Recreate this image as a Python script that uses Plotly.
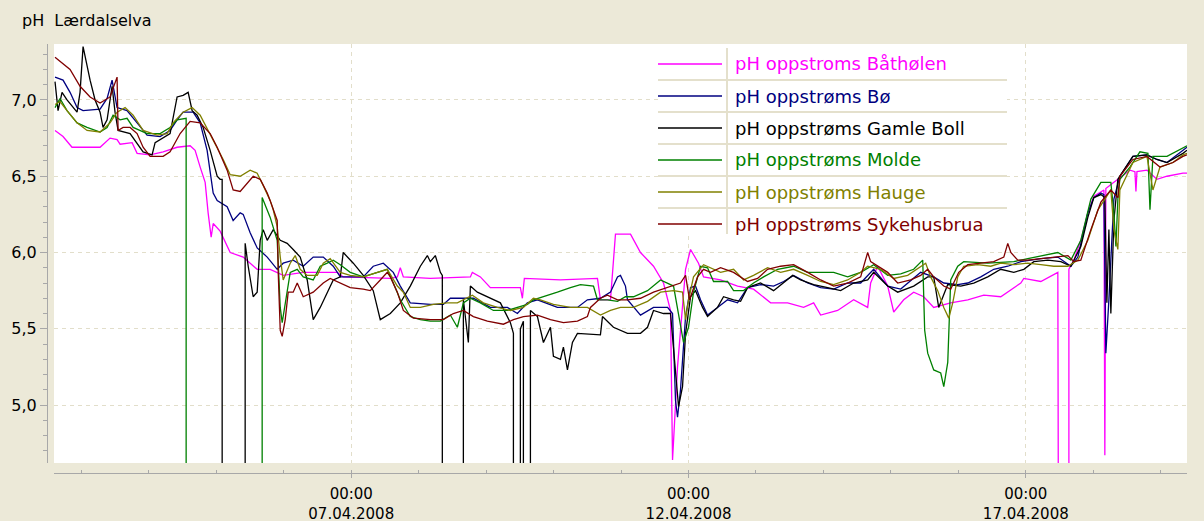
import numpy as np
import pandas as pd
import plotly.graph_objects as go

# ---------------- data (time = fractional day of April 2008, value = pH) ----------------
series_names = ["pH oppstroms Båthølen", "pH oppstrøms Bø", "pH oppstrøms Gamle Boll",
                "pH oppstrøms Molde", "pH oppstrøms Hauge", "pH oppstrøms Sykehusbrua"]
series_colors = ["#FF00FF", "#000080", "#000000", "#008000", "#808000", "#800000"]

bathoelen_day = [2.608, 2.727, 2.860, 3.276, 3.424, 3.528, 3.573, 3.751, 3.825, 4.018, 4.211, 4.418,
                 4.611, 4.685, 4.760, 4.834, 4.878, 4.923, 4.953, 5.056, 5.205, 5.398, 5.605, 5.798,
                 5.991, 6.288, 6.585, 6.792, 6.881, 7.579, 7.683, 7.727, 7.772, 8.172, 8.766, 8.795,
                 8.914, 9.062, 9.507, 9.537, 9.566, 10.101, 10.650, 10.694, 10.843, 10.917, 11.140,
                 11.288, 11.481, 11.629, 11.733, 11.763, 11.837, 11.956, 12.030, 12.148, 12.223,
                 12.475, 12.727, 12.964, 13.217, 13.469, 13.706, 13.855, 13.959, 14.211, 14.448,
                 14.656, 14.700, 14.804, 14.953, 15.042, 15.190, 15.338, 15.487, 15.635, 15.887,
                 16.140, 16.377, 16.629, 16.926, 16.971, 17.223, 17.475, 17.505, 17.639, 17.639,
                 17.713, 17.816, 17.920, 18.009, 18.113, 18.158, 18.172, 18.187, 18.306, 18.544,
                 18.618, 18.633, 18.648, 18.796, 18.944, 19.093, 19.330, 19.390]
bathoelen_ph = [6.80, 6.76, 6.69, 6.69, 6.75, 6.74, 6.71, 6.72, 6.65, 6.64, 6.66, 6.69,
                6.70, 6.67, 6.56, 6.46, 6.26, 6.10, 6.19, 6.14, 6.00, 5.97, 5.89, 5.89,
                5.85, 5.87, 5.87, 5.87, 5.84, 5.83, 5.84, 5.90, 5.84, 5.83, 5.84, 5.87,
                5.84, 5.77, 5.77, 5.70, 5.83, 5.82, 5.83, 5.69, 5.69, 6.12, 6.12,
                6.00, 5.91, 5.80, 5.62, 4.64, 5.25, 5.89, 6.02, 5.93, 5.84,
                5.82, 5.78, 5.76, 5.67, 5.67, 5.64, 5.67, 5.59, 5.62, 5.69,
                5.64, 5.80, 5.91, 5.78, 5.61, 5.69, 5.74, 5.71, 5.64, 5.67,
                5.69, 5.72, 5.71, 5.80, 5.83, 5.81, 5.87, 0.00, 0.00, 5.89,
                5.95, 6.08, 6.26, 6.37, 6.40, 6.41, 4.67, 6.42, 6.46, 6.54,
                6.53, 6.40, 6.53, 6.54, 6.48, 6.50, 6.52, 6.52]

boe_day = [2.608, 2.727, 2.831, 2.935, 3.024, 3.276, 3.380, 3.454, 3.528, 3.676, 3.825, 3.973,
           4.166, 4.314, 4.418, 4.507, 4.656, 4.760, 4.863, 4.953, 5.012, 5.160, 5.249, 5.353,
           5.398, 5.501, 5.605, 5.754, 5.902, 5.991, 6.139, 6.288, 6.436, 6.585, 6.733, 6.837,
           7.178, 7.326, 7.475, 7.623, 7.727, 7.875, 8.172, 8.365, 8.469, 8.810, 9.062, 9.315,
           9.463, 9.611, 9.760, 10.056, 10.353, 10.501, 10.694, 10.843, 10.947, 10.991, 11.065,
           11.095, 11.288, 11.481, 11.689, 11.763, 11.807, 11.837, 11.881, 11.956, 12.030,
           12.104, 12.178, 12.282, 12.430, 12.579, 12.727, 12.875, 13.068, 13.261, 13.410,
           13.558, 13.766, 13.959, 14.152, 14.359, 14.552, 14.745, 14.953, 15.146, 15.442,
           15.635, 15.784, 15.991, 16.140, 16.333, 16.525, 16.733, 16.926, 17.223, 17.475,
           17.668, 17.772, 17.920, 18.009, 18.113, 18.158, 18.187, 18.232, 18.306, 18.395,
           18.588, 18.796, 18.944, 19.093, 19.330, 19.390]
boe_ph = [7.15, 7.13, 7.05, 6.95, 6.93, 6.94, 7.01, 7.13, 6.95, 6.93, 6.85, 6.77,
          6.76, 6.80, 6.87, 6.92, 6.92, 6.85, 6.67, 6.39, 6.34, 6.30, 6.21, 6.26,
          6.25, 6.13, 6.03, 5.97, 5.89, 5.93, 5.95, 5.91, 5.97, 5.97, 5.91, 5.84,
          5.84, 5.91, 5.93, 5.87, 5.78, 5.67, 5.66, 5.66, 5.70, 5.70, 5.64, 5.64,
          5.60, 5.67, 5.69, 5.64, 5.64, 5.69, 5.70, 5.74, 5.84, 5.85, 5.78,
          5.69, 5.59, 5.64, 5.64, 5.60, 5.03, 4.92, 5.10, 5.58, 5.77,
          5.78, 5.69, 5.59, 5.64, 5.69, 5.67, 5.77, 5.79, 5.78, 5.81,
          5.85, 5.80, 5.77, 5.76, 5.80, 5.80, 5.89, 5.78, 5.76, 5.87,
          5.84, 5.80, 5.79, 5.80, 5.84, 5.89, 5.91, 5.94, 5.96, 5.97,
          5.91, 5.97, 6.26, 6.36, 6.39, 6.38, 5.34, 5.69, 6.35, 6.50,
          6.63, 6.64, 6.61, 6.59, 6.67, 6.69]

gamle_boll_day = [2.608, 2.653, 2.712, 2.786, 2.935, 2.979, 3.024, 3.083, 3.128, 3.202, 3.276, 3.320,
                  3.380, 3.454, 3.498, 3.543, 3.721, 3.914, 4.047, 4.092, 4.166, 4.314, 4.418, 4.507,
                  4.582, 4.641, 4.715, 4.804, 4.908, 5.012, 5.056, 5.086, 5.086, 5.427, 5.427, 5.472,
                  5.546, 5.605, 5.650, 5.694, 5.754, 5.843, 5.947, 6.050, 6.139, 6.243, 6.347, 6.436,
                  6.540, 6.644, 6.733, 6.837, 6.881, 7.030, 7.178, 7.326, 7.430, 7.579, 7.727, 7.875,
                  8.024, 8.128, 8.172, 8.246, 8.321, 8.350, 8.350, 8.662, 8.662, 8.736, 8.766, 8.869,
                  9.018, 9.211, 9.359, 9.404, 9.404, 9.507, 9.507, 9.552, 9.552, 9.656, 9.656, 9.760,
                  9.849, 9.953, 9.997, 10.101, 10.145, 10.205, 10.279, 10.353, 10.694, 10.724, 10.887,
                  10.991, 11.095, 11.288, 11.392, 11.481, 11.629, 11.733, 11.778, 11.852, 11.911,
                  11.956, 12.030, 12.104, 12.208, 12.282, 12.430, 12.519, 12.668, 12.772, 12.875,
                  13.068, 13.261, 13.410, 13.543, 13.662, 13.855, 14.063, 14.255, 14.448, 14.656,
                  14.745, 14.953, 15.101, 15.338, 15.546, 15.635, 15.709, 15.843, 16.036, 16.229,
                  16.436, 16.629, 16.822, 16.971, 17.119, 17.327, 17.520, 17.668, 17.816, 17.920,
                  18.009, 18.113, 18.172, 18.202, 18.232, 18.261, 18.306, 18.365, 18.588, 18.796,
                  18.944, 19.093, 19.330, 19.390]
gamle_boll_ph = [7.12, 6.93, 7.05, 7.00, 6.92, 7.05, 7.35, 7.22, 7.13, 7.00, 6.92, 6.82,
                 6.87, 7.09, 6.92, 6.80, 6.78, 6.66, 6.64, 6.72, 6.74, 6.78, 7.02, 7.03,
                 7.05, 6.93, 6.90, 6.82, 6.67, 6.50, 6.48, 6.48, 0.00, 0.00, 6.06, 5.91,
                 5.71, 5.74, 6.08, 6.15, 6.08, 6.15, 6.08, 6.06, 6.02, 5.97, 5.82, 5.56,
                 5.64, 5.74, 5.82, 5.84, 6.00, 5.93, 5.85, 5.75, 5.56, 5.60, 5.67, 5.78,
                 5.91, 5.98, 5.94, 5.98, 5.87, 5.85, 0.00, 0.00, 5.69, 5.41, 5.78, 5.74,
                 5.71, 5.67, 5.54, 5.47, 0.00, 0.00, 5.50, 5.55, 0.00, 0.00, 5.62, 5.58,
                 5.41, 5.51, 5.32, 5.30, 5.38, 5.23, 5.41, 5.47, 5.46, 5.58, 5.51,
                 5.49, 5.47, 5.47, 5.51, 5.62, 5.60, 5.60, 5.36, 4.99, 5.12,
                 5.47, 5.71, 5.75, 5.64, 5.58, 5.64, 5.71, 5.69, 5.68, 5.77,
                 5.80, 5.75, 5.80, 5.85, 5.82, 5.79, 5.77, 5.75, 5.80, 5.82,
                 5.87, 5.78, 5.74, 5.78, 5.84, 5.84, 5.64, 5.79, 5.78, 5.80,
                 5.84, 5.89, 5.87, 5.89, 5.94, 5.95, 5.94, 5.91, 6.04, 6.23,
                 6.36, 6.38, 6.36, 5.67, 6.15, 5.60, 6.21, 6.48, 6.63, 6.64,
                 6.61, 6.59, 6.65, 6.67]

molde_day = [2.608, 2.682, 2.786, 2.935, 3.083, 3.276, 3.380, 3.469, 3.573, 3.676, 3.766, 3.973,
             4.166, 4.314, 4.418, 4.537, 4.552, 4.552, 5.679, 5.679, 5.798, 5.902, 5.947, 5.976,
             6.050, 6.095, 6.199, 6.288, 6.436, 6.540, 6.644, 6.733, 6.837, 6.985, 7.178, 7.386,
             7.534, 7.623, 7.727, 7.875, 8.024, 8.172, 8.321, 8.469, 8.573, 8.662, 8.766, 8.914,
             9.107, 9.315, 9.463, 9.611, 9.700, 9.849, 10.056, 10.249, 10.398, 10.591, 10.650,
             10.798, 10.947, 11.065, 11.184, 11.392, 11.585, 11.778, 11.881, 11.926, 12.000,
             12.074, 12.178, 12.282, 12.371, 12.579, 12.668, 12.816, 12.964, 13.113, 13.321,
             13.558, 13.766, 13.959, 14.152, 14.359, 14.552, 14.745, 14.953, 15.146, 15.338,
             15.472, 15.501, 15.546, 15.635, 15.739, 15.784, 15.843, 15.873, 15.887, 15.991,
             16.080, 16.436, 16.822, 17.030, 17.267, 17.475, 17.668, 17.816, 17.965, 18.113,
             18.261, 18.306, 18.336, 18.365, 18.395, 18.544, 18.692, 18.811, 18.841, 18.885,
             19.093, 19.330, 19.390]
molde_ph = [6.95, 7.01, 6.93, 6.85, 6.82, 6.79, 6.82, 6.90, 6.87, 6.88, 6.82, 6.78,
            6.78, 6.82, 6.87, 6.88, 6.88, 0.00, 0.00, 6.36, 6.23, 6.08, 5.64, 5.54,
            5.74, 5.87, 5.89, 5.84, 5.82, 5.91, 5.93, 5.95, 5.92, 5.87, 5.84, 5.87,
            5.89, 5.80, 5.69, 5.58, 5.56, 5.55, 5.55, 5.59, 5.51, 5.67, 5.70, 5.67,
            5.62, 5.62, 5.64, 5.66, 5.69, 5.71, 5.74, 5.77, 5.79, 5.78, 5.69,
            5.69, 5.68, 5.71, 5.71, 5.75, 5.82, 5.78, 5.51, 5.41, 5.51,
            5.74, 5.91, 5.90, 5.81, 5.81, 5.75, 5.75, 5.80, 5.84, 5.89,
            5.91, 5.87, 5.87, 5.87, 5.84, 5.87, 5.92, 5.85, 5.86, 5.89,
            5.95, 5.49, 5.34, 5.23, 5.21, 5.12, 5.28, 5.58, 5.82, 5.91,
            5.94, 5.93, 5.94, 5.96, 5.98, 6.00, 5.95, 6.08, 6.35, 6.46,
            6.46, 6.26, 6.04, 6.35, 6.48, 6.56, 6.66, 6.65, 6.28, 6.63,
            6.63, 6.69, 6.70]

hauge_day = [2.608, 2.682, 2.786, 2.935, 3.083, 3.276, 3.424, 3.528, 3.647, 3.766, 3.914, 4.122,
             4.270, 4.359, 4.507, 4.641, 4.760, 4.953, 5.101, 5.205, 5.353, 5.501, 5.605, 5.694,
             5.798, 5.843, 5.902, 5.947, 5.991, 6.095, 6.169, 6.243, 6.347, 6.496, 6.585, 6.688,
             6.837, 6.985, 7.178, 7.386, 7.534, 7.683, 7.772, 7.875, 8.024, 8.217, 8.424, 8.573,
             8.721, 8.795, 8.958, 9.166, 9.359, 9.552, 9.700, 9.804, 9.997, 10.249, 10.501,
             10.694, 10.843, 10.991, 11.184, 11.392, 11.585, 11.778, 11.911, 11.956, 12.000,
             12.074, 12.223, 12.326, 12.475, 12.668, 12.816, 12.964, 13.172, 13.365, 13.558,
             13.766, 13.959, 14.152, 14.359, 14.552, 14.656, 14.849, 15.042, 15.249, 15.442,
             15.516, 15.590, 15.694, 15.784, 15.858, 15.917, 15.991, 16.080, 16.288, 16.481,
             16.629, 16.822, 17.030, 17.223, 17.416, 17.624, 17.772, 17.920, 18.069, 18.158,
             18.261, 18.306, 18.365, 18.395, 18.588, 18.796, 18.885, 18.989, 19.182, 19.330,
             19.390]
hauge_ph = [6.97, 6.99, 6.93, 6.85, 6.80, 6.79, 6.85, 6.92, 6.95, 6.90, 6.80, 6.77,
            6.78, 6.85, 6.92, 6.95, 6.90, 6.74, 6.61, 6.51, 6.50, 6.54, 6.52, 6.44,
            6.34, 6.28, 6.17, 5.97, 5.82, 5.93, 5.98, 5.89, 5.85, 5.85, 5.93, 5.96,
            5.87, 5.85, 5.84, 5.87, 5.89, 5.78, 5.74, 5.64, 5.64, 5.66, 5.67, 5.67,
            5.70, 5.72, 5.67, 5.64, 5.62, 5.64, 5.70, 5.69, 5.66, 5.64, 5.64,
            5.59, 5.62, 5.64, 5.64, 5.68, 5.74, 5.75, 5.74, 5.56, 5.69,
            5.84, 5.92, 5.90, 5.87, 5.89, 5.82, 5.85, 5.90, 5.87, 5.89,
            5.85, 5.81, 5.79, 5.82, 5.87, 5.91, 5.89, 5.83, 5.85, 5.91,
            5.93, 5.84, 5.75, 5.64, 5.57, 5.67, 5.84, 5.91, 5.92, 5.91,
            5.93, 5.92, 5.93, 5.92, 5.91, 5.91, 5.95, 6.08, 6.28, 6.34,
            6.41, 6.15, 6.02, 6.41, 6.59, 6.63, 6.41, 6.56, 6.59, 6.64,
            6.65]

sykehusbrua_day = [2.608, 2.712, 2.831, 2.979, 3.128, 3.276, 3.424, 3.528, 3.543, 3.617, 3.721, 3.825,
                   3.914, 4.018, 4.211, 4.314, 4.463, 4.611, 4.760, 4.908, 5.012, 5.160, 5.249, 5.353,
                   5.546, 5.650, 5.754, 5.798, 5.902, 5.917, 5.947, 5.976, 6.021, 6.065, 6.139, 6.199,
                   6.288, 6.436, 6.585, 6.688, 6.837, 6.985, 7.178, 7.282, 7.430, 7.534, 7.579, 7.683,
                   7.772, 7.920, 8.172, 8.365, 8.513, 8.662, 8.810, 9.018, 9.255, 9.404, 9.552, 9.760,
                   9.953, 10.145, 10.353, 10.501, 10.546, 10.694, 10.798, 10.947, 11.095, 11.288,
                   11.481, 11.689, 11.881, 11.956, 12.015, 12.134, 12.223, 12.326, 12.475, 12.668,
                   12.875, 13.024, 13.172, 13.365, 13.558, 13.766, 13.959, 14.152, 14.359, 14.552,
                   14.656, 14.700, 14.804, 14.953, 15.101, 15.294, 15.442, 15.546, 15.635, 15.784,
                   15.887, 16.006, 16.140, 16.333, 16.525, 16.674, 16.733, 16.778, 16.881, 17.030,
                   17.223, 17.416, 17.624, 17.713, 17.816, 17.965, 18.113, 18.261, 18.365, 18.395,
                   18.588, 18.796, 18.989, 19.182, 19.330, 19.390]
sykehusbrua_ph = [7.28, 7.24, 7.20, 7.09, 7.02, 6.98, 7.02, 7.15, 6.80, 6.82, 6.82, 6.78,
                  6.69, 6.63, 6.63, 6.66, 6.78, 6.86, 6.85, 6.78, 6.69, 6.54, 6.41, 6.40,
                  6.50, 6.48, 6.39, 6.34, 6.21, 5.87, 5.49, 5.45, 5.56, 5.74, 5.74, 5.80,
                  5.71, 5.74, 5.80, 5.83, 5.80, 5.77, 5.76, 5.75, 5.82, 5.87, 5.84, 5.74,
                  5.62, 5.57, 5.56, 5.56, 5.60, 5.62, 5.58, 5.55, 5.53, 5.56, 5.58, 5.59,
                  5.56, 5.54, 5.55, 5.58, 5.64, 5.70, 5.72, 5.69, 5.69, 5.70,
                  5.74, 5.77, 5.80, 5.85, 5.69, 5.84, 5.89, 5.87, 5.90, 5.87,
                  5.81, 5.83, 5.89, 5.91, 5.92, 5.87, 5.82, 5.78, 5.80, 5.84,
                  6.00, 5.94, 5.91, 5.87, 5.80, 5.82, 5.85, 5.89, 5.84, 5.78,
                  5.76, 5.87, 5.92, 5.93, 5.94, 5.97, 6.06, 6.00, 5.95, 5.95,
                  5.96, 5.97, 5.98, 5.94, 5.95, 6.15, 6.33, 6.41, 6.36, 6.50,
                  6.61, 6.63, 6.56, 6.59, 6.63, 6.64]

y_tick_values = [5.0, 5.5, 6.0, 6.5, 7.0]
y_tick_labels = ["5,0", "5,5", "6,0", "6,5", "7,0"]
x_tick_days = [7, 12, 17]
x_tick_labels = ["00:00<br>07.04.2008", "00:00<br>12.04.2008", "00:00<br>17.04.2008"]
x_range_days = [2.593, 19.390]
y_range = [4.62, 7.367]

# ---------------- helpers ----------------
BASE = pd.Timestamp("2008-04-01")


def to_time(days):
    return BASE + pd.to_timedelta(np.asarray(days, dtype=float) - 1.0, unit="D")


all_days = [bathoelen_day, boe_day, gamle_boll_day, molde_day, hauge_day, sykehusbrua_day]
all_ph = [bathoelen_ph, boe_ph, gamle_boll_ph, molde_ph, hauge_ph, sykehusbrua_ph]

W, H = 1204, 521
ML, MR, MT, MB = 47, 17, 44, 48
PW, PH = W - ML - MR, H - MT - MB


def px(xp):
    return (xp - ML) / PW


def py(yp):
    return (H - MB - yp) / PH


FONT = "DejaVu Sans"
fig = go.Figure()
for d, v, name, col in zip(all_days, all_ph, series_names, series_colors):
    fig.add_trace(go.Scatter(x=to_time(d), y=v, mode="lines", name=name,
                             line=dict(color=col, width=1.3), showlegend=False))

# custom legend panel (white box with separators, as in the reference)
shapes = [dict(type="rect", xref="paper", yref="paper", x0=px(658), x1=px(1007), y0=py(234), y1=py(44),
               fillcolor="white", line=dict(width=0), layer="above")]
for k in range(5):
    yy = 80 + 32 * k
    shapes.append(dict(type="line", xref="paper", yref="paper", x0=px(658), x1=px(1007), y0=py(yy), y1=py(yy),
                       line=dict(color="#E4E0CC", width=2), layer="above"))
shapes.append(dict(type="line", xref="paper", yref="paper", x0=px(727), x1=px(727), y0=py(48), y1=py(234),
                   line=dict(color="#E4E0CC", width=2), layer="above"))
annotations = []
for k, (name, col) in enumerate(zip(series_names, series_colors)):
    yc = 64 + 32 * k
    shapes.append(dict(type="line", xref="paper", yref="paper", x0=px(658), x1=px(722), y0=py(yc), y1=py(yc),
                       line=dict(color=col, width=1.5), layer="above"))
    annotations.append(dict(text=name, xref="paper", yref="paper", x=px(733), y=py(yc), xanchor="left",
                            yanchor="middle", showarrow=False, font=dict(family=FONT, size=18, color=col)))

annotations.append(dict(text="pH\u00a0 Lærdalselva", xref="paper", yref="paper", x=px(20), y=py(21),
                        xanchor="left", yanchor="middle", showarrow=False,
                        font=dict(family=FONT, size=16, color="black")))

fig.update_layout(
    width=W, height=H,
    margin=dict(l=ML, r=MR, t=MT, b=MB, pad=0, autoexpand=False),
    paper_bgcolor="#ECE9D8", plot_bgcolor="white",
    font=dict(family=FONT, size=15, color="black"),
    shapes=shapes, annotations=annotations, showlegend=False,
    xaxis=dict(type="date", domain=[px(54), 1.0], range=list(to_time(x_range_days)),
               anchor="free", position=0, showline=True, linecolor="#A8A8A8", linewidth=1,
               tickmode="array", tickvals=list(to_time(x_tick_days)), ticktext=x_tick_labels,
               ticks="outside", ticklen=4, tickcolor="#A8A8A8", ticklabelstandoff=3,
               tickfont=dict(family=FONT, size=15, color="black"),
               showgrid=True, gridcolor="#E2DECA", griddash="4px,4px", gridwidth=1,
               minor=dict(tickmode="linear", tick0="2008-04-01", dtick=86400000, ticks="inside",
                          ticklen=3, tickcolor="#A8A8A8", showgrid=False),
               zeroline=False, fixedrange=True),
    yaxis=dict(domain=[py(463), 1.0], range=y_range, anchor="free", position=0,
               showline=True, linecolor="#A8A8A8", linewidth=1,
               tickmode="array", tickvals=y_tick_values, ticktext=y_tick_labels,
               ticks="outside", ticklen=7, tickcolor="#A8A8A8",
               tickfont=dict(family=FONT, size=16, color="black"),
               showgrid=True, gridcolor="#E2DECA", griddash="4px,4px", gridwidth=1,
               minor=dict(tickmode="linear", tick0=0, dtick=0.1, ticks="outside", ticklen=4,
                          tickcolor="#A8A8A8", showgrid=False),
               zeroline=False, fixedrange=True),
)

fig.write_html("out.html", config={"displayModeBar": False},
               post_script="document.body.style.margin='0';document.body.style.overflow='hidden';")
